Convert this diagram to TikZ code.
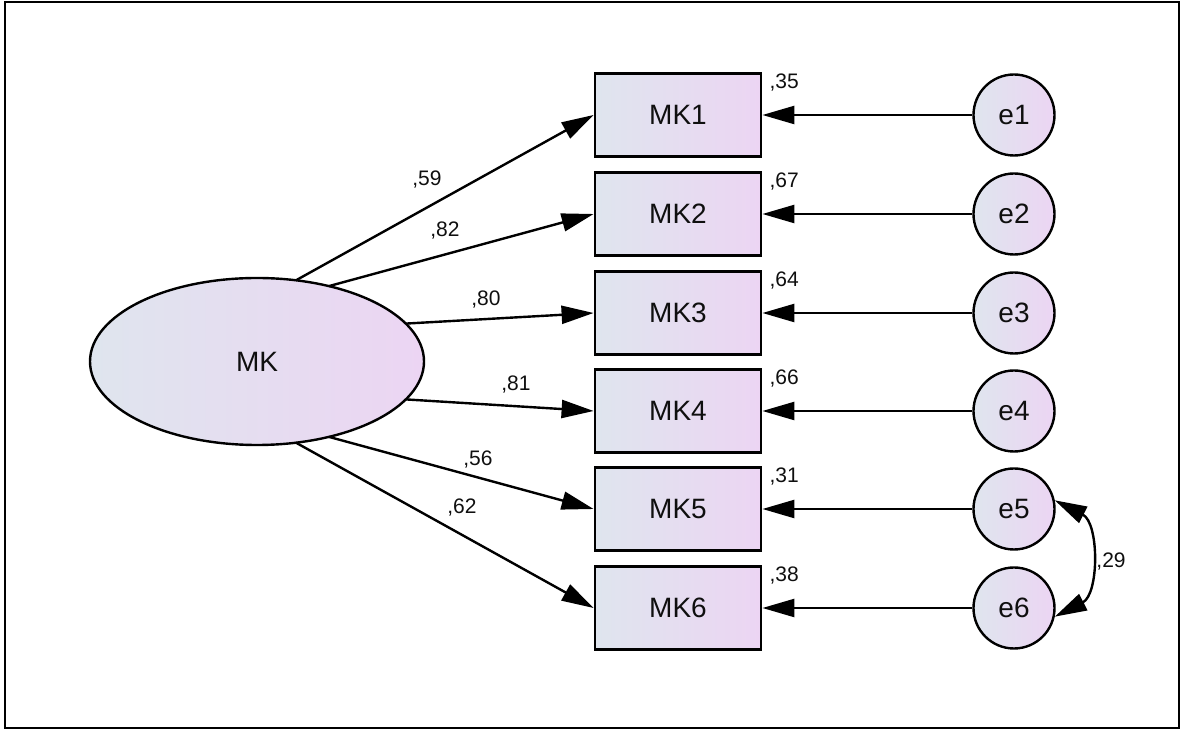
\documentclass[tikz,border=0pt]{standalone}
\usepackage{fontspec}
\setmainfont{Liberation Sans}
\usetikzlibrary{shapes.geometric,arrows.meta}
\definecolor{ga}{RGB}{223,229,238}
\definecolor{gb}{RGB}{236,213,243}
\definecolor{txt}{RGB}{15,15,15}
\begin{document}
\begin{tikzpicture}[x=1pt,y=1pt,
  obs/.style={draw=black,line width=2.8pt,left color=ga,right color=gb,
    minimum width=166pt,minimum height=83pt,inner sep=0pt,
    font=\fontsize{28}{32}\selectfont,text=txt},
  err/.style={circle,draw=black,line width=2.4pt,left color=ga,right color=gb,
    minimum size=81pt,inner sep=0pt,font=\fontsize{28}{32}\selectfont,text=txt},
  lat/.style={ellipse,draw=black,line width=2.4pt,left color=ga,right color=gb,
    minimum width=334pt,minimum height=167pt,inner sep=0pt,
    font=\fontsize{28}{32}\selectfont,text=txt},
  num/.style={font=\fontsize{21}{25}\selectfont,text=txt,inner sep=0pt},
  arr/.style={line width=2.4pt,-{Triangle[length=32pt,width=18pt]}},
  dbl/.style={line width=2.4pt,{Triangle[length=32pt,width=18pt]}-{Triangle[length=32pt,width=18pt]}}
]
\useasboundingbox (0,0) rectangle (1187,731);
\draw[line width=2.2pt] (5,3) rectangle (1179,729);

\node[lat] (mk) at (257,369.5) {MK};

\node[obs] (mk1) at (678,616) {MK1};
\node[obs] (mk2) at (678,517) {MK2};
\node[obs] (mk3) at (678,418) {MK3};
\node[obs] (mk4) at (678,320) {MK4};
\node[obs] (mk5) at (678,222) {MK5};
\node[obs] (mk6) at (678,123) {MK6};

\node[err] (e1) at (1014,616) {e1};
\node[err] (e2) at (1014,517) {e2};
\node[err] (e3) at (1014,418) {e3};
\node[err] (e4) at (1014,320) {e4};
\node[err] (e5) at (1014,222) {e5};
\node[err] (e6) at (1014,123) {e6};

\path (mk.center) ++(76.5:167 and 83.5) coordinate (s1);
\path (mk.center) ++(64.5:167 and 83.5) coordinate (s2);
\path (mk.center) ++(27:167 and 83.5) coordinate (s3);
\path (mk.center) ++(-27:167 and 83.5) coordinate (s4);
\path (mk.center) ++(-64.5:167 and 83.5) coordinate (s5);
\path (mk.center) ++(-76.5:167 and 83.5) coordinate (s6);

\draw[arr] (s1) -- (mk1.west);
\draw[arr] (s2) -- (mk2.west);
\draw[arr] (s3) -- (mk3.west);
\draw[arr] (s4) -- (mk4.west);
\draw[arr] (s5) -- (mk5.west);
\draw[arr] (s6) -- (mk6.west);

\draw[arr] (e1.west) -- (mk1.east);
\draw[arr] (e2.west) -- (mk2.east);
\draw[arr] (e3.west) -- (mk3.east);
\draw[arr] (e4.west) -- (mk4.east);
\draw[arr] (e5.west) -- (mk5.east);
\draw[arr] (e6.west) -- (mk6.east);

\draw[dbl] (e5.12) to[out=-27,in=27,looseness=1.1] (e6.-12);

\node[num] (l59) at (427,551) {,59};
\node[num] (l82) at (445,500) {,82};
\node[num] (l80) at (486,431) {,80};
\node[num] (l81) at (516,346) {,81};
\node[num] (l56) at (478,271) {,56};
\node[num] (l62) at (462,223) {,62};
\node[num] (l29) at (1111,169) {,29};

\node[num,anchor=west] (r1) at ([xshift=7pt,yshift=-10pt]mk1.north east) {,35};
\node[num,anchor=west] (r2) at ([xshift=7pt,yshift=-10pt]mk2.north east) {,67};
\node[num,anchor=west] (r3) at ([xshift=7pt,yshift=-10pt]mk3.north east) {,64};
\node[num,anchor=west] (r4) at ([xshift=7pt,yshift=-10pt]mk4.north east) {,66};
\node[num,anchor=west] (r5) at ([xshift=7pt,yshift=-10pt]mk5.north east) {,31};
\node[num,anchor=west] (r6) at ([xshift=7pt,yshift=-10pt]mk6.north east) {,38};
\end{tikzpicture}
\end{document}
